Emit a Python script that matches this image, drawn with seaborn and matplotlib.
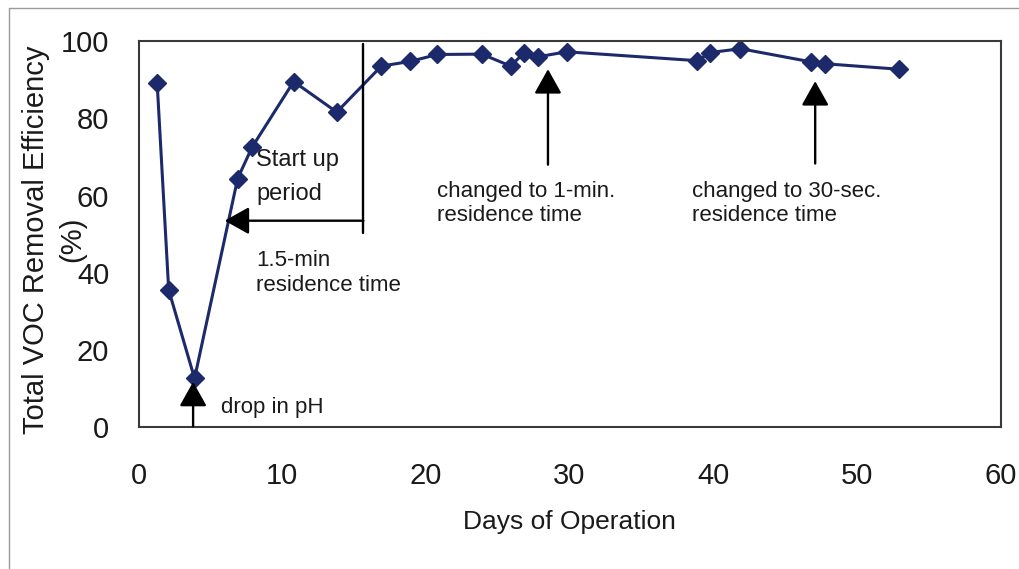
import matplotlib
matplotlib.use("Agg")
import matplotlib.pyplot as plt
import seaborn as sns
from matplotlib.lines import Line2D

# data
days = [1.3, 2.1, 3.9, 6.9, 7.9, 10.8, 13.8, 16.9, 18.9, 20.8, 23.9,
        25.9, 26.8, 27.8, 29.8, 38.9, 39.8, 41.9, 46.8, 47.8, 52.9]
efficiency = [89.0, 35.6, 12.7, 64.4, 72.5, 89.5, 81.6, 93.5, 94.7, 96.5, 96.6,
              93.5, 96.8, 95.9, 97.2, 94.9, 97.0, 98.0, 94.6, 94.1, 92.7]
x_ticks = [0, 10, 20, 30, 40, 50, 60]
y_ticks = [0, 20, 40, 60, 80, 100]

sns.set_style("white")
plt.rcParams['font.family'] = ['Liberation Sans', 'DejaVu Sans']

navy = '#1c2a6b'
ink = '#1a1a1a'

fig = plt.figure(figsize=(10.2, 5.69), dpi=100)
ax = fig.add_axes([0.1358, 0.2487, 0.8451, 0.6793])

sns.lineplot(x=days, y=efficiency, ax=ax, color=navy, linewidth=2.2,
             marker='D', markersize=9, markeredgecolor=navy, markeredgewidth=1)

ax.set_xlim(0, 60)
ax.set_ylim(0, 100)
ax.set_xticks(x_ticks)
ax.set_yticks(y_ticks)
ax.tick_params(axis='both', direction='out', length=9, width=1.2,
               color='#444444', labelsize=21, labelcolor=ink)
ax.tick_params(axis='x', pad=16)
ax.tick_params(axis='y', pad=12)
for sp in ax.spines.values():
    sp.set_color('#3a3a3a')
    sp.set_linewidth(1.5)

# axis labels placed like the original (the "(%)" line sits over the 40 label there too)
fig.text(569 / 1020, 1 - 522 / 569, 'Days of Operation', fontsize=19,
         color=ink, ha='center', va='center')
fig.text(36 / 1020, 1 - 240 / 569, 'Total VOC Removal Efficiency',
         fontsize=21, color=ink, rotation=90, ha='center', va='center')
fig.text(72 / 1020, 1 - 239 / 569, '(%)',
         fontsize=21, color=ink, rotation=90, ha='center', va='center')

# annotations
arrow = dict(arrowstyle='-|>,head_length=0.75,head_width=0.42',
             mutation_scale=20, lw=1.7, color='black', shrinkA=0, shrinkB=0)

ax.annotate('', xy=(3.8, 11.8), xytext=(3.8, 0.3), arrowprops=arrow)
ax.text(5.74, 5.3, 'drop in pH', fontsize=16, color=ink, va='center')

ax.plot([15.65, 15.65], [50.4, 99.2], color='black', lw=1.7)
ax.annotate('', xy=(6.0, 53.5), xytext=(15.65, 53.5), arrowprops=arrow)
ax.text(8.2, 64.8, 'Start up\nperiod', fontsize=17, color=ink, va='center',
        linespacing=1.65)
ax.text(8.2, 39.9, '1.5-min\nresidence time', fontsize=16, color=ink,
        va='center', linespacing=1.25)

ax.annotate('', xy=(28.5, 92.7), xytext=(28.5, 68.0), arrowprops=arrow)
ax.text(20.8, 58.0, 'changed to 1-min.\nresidence time', fontsize=16,
        color=ink, va='center', linespacing=1.2)

ax.annotate('', xy=(47.1, 89.6), xytext=(47.1, 68.3), arrowprops=arrow)
ax.text(38.5, 58.0, 'changed to 30-sec.\nresidence time', fontsize=16,
        color=ink, va='center', linespacing=1.2)

# thin outer frame (top and left edges visible in the original)
fig.add_artist(Line2D([9 / 1020, 9 / 1020], [0, 1 - 8 / 569],
                      transform=fig.transFigure, color='#9a9a9a', lw=1))
fig.add_artist(Line2D([9 / 1020, 1], [1 - 8 / 569, 1 - 8 / 569],
                      transform=fig.transFigure, color='#9a9a9a', lw=1))

fig.savefig('out.png', dpi=100)
